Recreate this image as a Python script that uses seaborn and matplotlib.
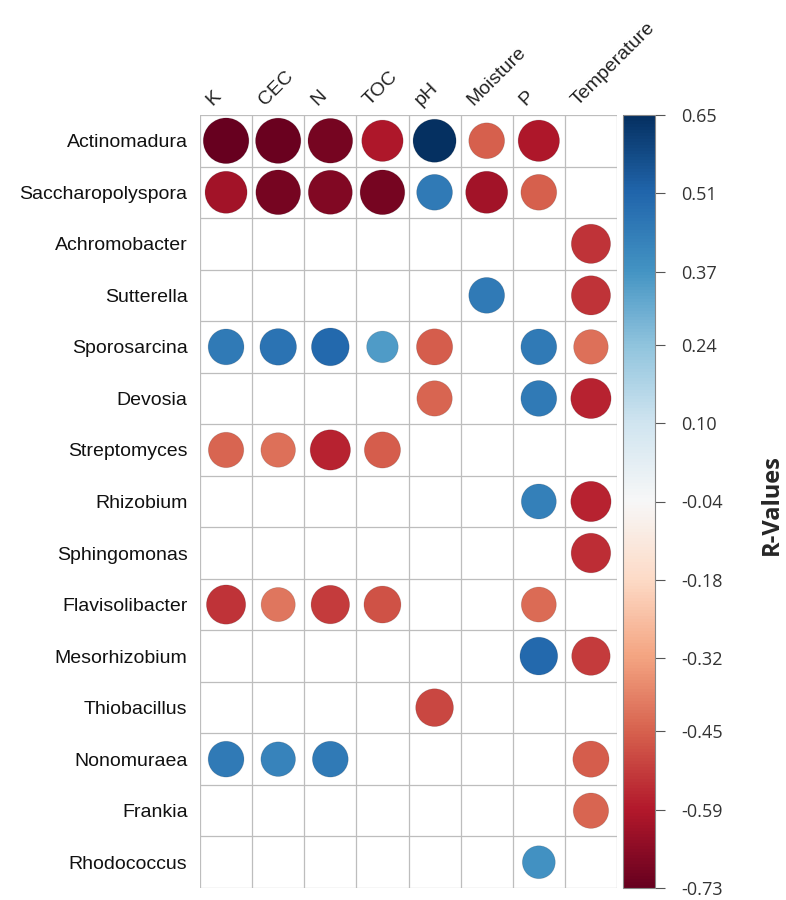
import numpy as np
import pandas as pd
import matplotlib
matplotlib.use("Agg")
import matplotlib.pyplot as plt
import seaborn as sns

# ── data ────────────────────────────────────────────────────
genera = ["Actinomadura", "Saccharopolyspora", "Achromobacter", "Sutterella",
          "Sporosarcina", "Devosia", "Streptomyces", "Rhizobium", "Sphingomonas",
          "Flavisolibacter", "Mesorhizobium", "Thiobacillus", "Nonomuraea",
          "Frankia", "Rhodococcus"]
factors = ["K", "CEC", "N", "TOC", "pH", "Moisture", "P", "Temperature"]

N_ = np.nan
r_actinomadura      = [-0.73, -0.72, -0.70, -0.60, 0.65, -0.45, -0.60, N_]
r_saccharopolyspora = [-0.62, -0.70, -0.68, -0.70, 0.45, -0.62, -0.45, N_]
r_achromobacter     = [N_, N_, N_, N_, N_, N_, N_, -0.54]
r_sutterella        = [N_, N_, N_, N_, N_, 0.45, N_, -0.54]
r_sporosarcina      = [0.45, 0.47, 0.50, 0.35, -0.46, N_, 0.45, -0.42]
r_devosia           = [N_, N_, N_, N_, -0.44, N_, 0.45, -0.57]
r_streptomyces      = [-0.44, -0.42, -0.57, -0.46, N_, N_, N_, N_]
r_rhizobium         = [N_, N_, N_, N_, N_, N_, 0.43, -0.57]
r_sphingomonas      = [N_, N_, N_, N_, N_, N_, N_, -0.55]
r_flavisolibacter   = [-0.54, -0.41, -0.52, -0.48, N_, N_, -0.43, N_]
r_mesorhizobium     = [N_, N_, N_, N_, N_, N_, 0.50, -0.52]
r_thiobacillus      = [N_, N_, N_, N_, -0.50, N_, N_, N_]
r_nonomuraea        = [0.45, 0.42, 0.45, N_, N_, N_, N_, -0.46]
r_frankia           = [N_, N_, N_, N_, N_, N_, N_, -0.44]
r_rhodococcus       = [N_, N_, N_, N_, N_, N_, 0.38, N_]

cbar_ticks = [0.65, 0.51, 0.37, 0.24, 0.10, -0.04, -0.18, -0.32, -0.45, -0.59, -0.73]
VMIN, VMAX = -0.73, 0.65

rows = [r_actinomadura, r_saccharopolyspora, r_achromobacter, r_sutterella,
        r_sporosarcina, r_devosia, r_streptomyces, r_rhizobium, r_sphingomonas,
        r_flavisolibacter, r_mesorhizobium, r_thiobacillus, r_nonomuraea,
        r_frankia, r_rhodococcus]

# long-form table for seaborn
records = []
for i, vals in enumerate(rows):
    for j, v in enumerate(vals):
        if not np.isnan(v):
            records.append({"row": i, "col": j, "r": v, "absr": abs(v)})
df = pd.DataFrame(records)

# ── figure ──────────────────────────────────────────────────
sns.set_style("white")
plt.rcParams["font.family"] = ["Liberation Sans", "DejaVu Sans"]

fig = plt.figure(figsize=(7.86, 9.0), dpi=100)
ax = fig.add_axes([200 / 786, 12 / 900, 417 / 786, 773 / 900])
cax = fig.add_axes([623 / 786, 12 / 900, 32 / 786, 773 / 900])

cmap = plt.get_cmap("RdBu")
norm = matplotlib.colors.Normalize(vmin=VMIN, vmax=VMAX)

sns.scatterplot(data=df, x="col", y="row", hue="r", palette=cmap, hue_norm=norm,
                size="absr", sizes=(0, 1080), size_norm=(0, 0.73),
                edgecolor="#00000022", linewidth=0.6, legend=False, ax=ax, zorder=3)

ax.set_xlim(-0.5, len(factors) - 0.5)
ax.set_ylim(len(genera) - 0.5, -0.5)

# grid lines at cell boundaries
ax.set_xticks(np.arange(-0.5, len(factors), 1), minor=True)
ax.set_yticks(np.arange(-0.5, len(genera), 1), minor=True)
ax.grid(which="minor", color="#bdbdbd", linewidth=0.9)
ax.grid(which="major", visible=False)
ax.tick_params(which="both", length=0)
for s in ax.spines.values():
    s.set_visible(False)

ax.set_yticks(range(len(genera)))
ax.set_yticklabels(genera, fontsize=14, color="#111111")
ax.tick_params(axis="y", pad=9)
ax.set_xticks([])
ax.set_xlabel("")
ax.set_ylabel("")

for j, f in enumerate(factors):
    ax.text(j - 0.2, -0.62, f, rotation=45, rotation_mode="anchor",
            ha="left", va="bottom", fontsize=14, color="#222222")

# colorbar
sm = matplotlib.cm.ScalarMappable(norm=norm, cmap=cmap)
cb = fig.colorbar(sm, cax=cax)
cb.set_ticks(cbar_ticks)
cb.set_ticklabels([f"{t:.2f}" for t in cbar_ticks])
cb.outline.set_edgecolor("#888888")
cb.outline.set_linewidth(0.8)
cax.tick_params(length=7, width=0.8, color="#555555", pad=12)
for lbl in cax.get_yticklabels():
    lbl.set_fontfamily("Open Sans")
    lbl.set_fontsize(13)
    lbl.set_color("#333333")

fig.text(772 / 786, 1 - 505 / 900, "R-Values", rotation=90, ha="center", va="center",
         fontsize=17, fontweight="bold", family="Open Sans")

plt.savefig("out.png", dpi=100)
